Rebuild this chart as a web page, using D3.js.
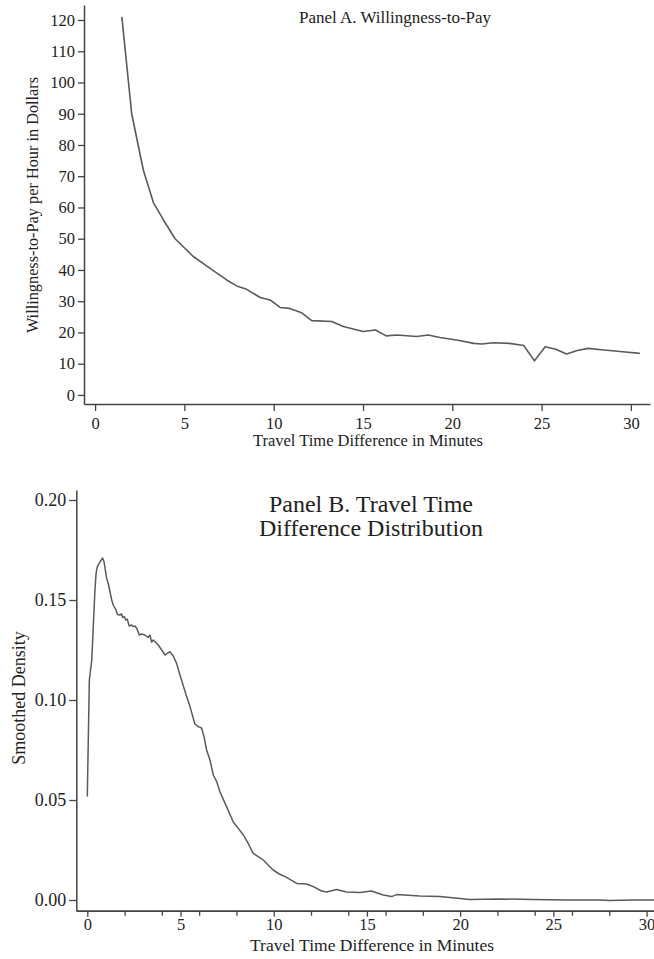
<!DOCTYPE html>
<html>
<head>
<meta charset="utf-8">
<script src="https://cdn.jsdelivr.net/npm/d3@7"></script>
<style>
  html, body { margin: 0; padding: 0; background: #fff; }
  svg { display: block; }
  text { font-family: "Liberation Serif", "Times New Roman", serif; fill: #222; }
</style>
</head>
<body>
<svg id="chart" width="654" height="959"></svg>
<script>
// Panel A: willingness-to-pay per hour (dollars) vs travel time difference (minutes)
const wtpMinutes = [1.5, 2.05, 2.7, 3.27, 3.83, 4.48, 5.5, 6.44, 7.37, 7.93, 8.49, 9.24, 9.8, 10.36, 10.9, 11.57, 12.13, 13.25, 13.9, 15.0, 15.7, 16.3, 16.9, 18.0, 18.66, 19.3, 20.4, 21.2, 21.65, 22.3, 23.2, 24.0, 24.6, 25.2, 25.8, 26.4, 27.0, 27.6, 28.5, 29.4, 30.5];
const wtpValues  = [121, 90, 72, 61.5, 56, 50, 44.3, 40.5, 36.8, 34.9, 33.8, 31.2, 30.4, 28.0, 27.7, 26.3, 23.8, 23.5, 21.9, 20.3, 20.8, 18.9, 19.2, 18.7, 19.2, 18.4, 17.4, 16.5, 16.3, 16.7, 16.5, 15.8, 10.9, 15.4, 14.6, 13.1, 14.2, 14.9, 14.4, 13.9, 13.3];
const wtpYTicks = [0, 10, 20, 30, 40, 50, 60, 70, 80, 90, 100, 110, 120];
const wtpXTicks = [0, 5, 10, 15, 20, 25, 30];

// Panel B: smoothed density of travel time difference
const densMinutes = [0, 0.11, 0.24, 0.41, 0.47, 0.54, 0.68, 0.77, 0.82, 0.9, 0.95, 1.04, 1.13, 1.22, 1.31, 1.39, 1.54, 1.61, 1.75, 1.84, 1.90, 1.99, 2.06, 2.14, 2.25, 2.38, 2.47, 2.56, 2.68, 2.79, 2.92, 3.09, 3.27, 3.36, 3.45, 3.54, 3.81, 3.99, 4.17, 4.29, 4.43, 4.61, 4.79, 4.97, 5.33, 5.51, 5.77, 5.95, 6.13, 6.26, 6.4, 6.58, 6.76, 6.94, 7.12, 7.47, 7.83, 8.1, 8.37, 8.63, 8.9, 9.17, 9.44, 9.7, 9.97, 10.3, 10.69, 11.23, 11.76, 12.12, 12.57, 12.84, 13.37, 13.91, 14.62, 15.25, 15.87, 16.32, 16.59, 17.84, 18.9, 20.0, 20.5, 22.1, 23.9, 25.7, 27.5, 28.0, 29.3, 30.4];
const densValues  = [0.0517, 0.11, 0.12, 0.155, 0.1633, 0.1667, 0.169, 0.1703, 0.171, 0.169, 0.166, 0.1608, 0.158, 0.154, 0.15, 0.1475, 0.145, 0.1428, 0.1425, 0.143, 0.1413, 0.1417, 0.140, 0.1405, 0.137, 0.1375, 0.1367, 0.137, 0.1353, 0.1325, 0.133, 0.1325, 0.1313, 0.1325, 0.129, 0.130, 0.1275, 0.125, 0.1225, 0.1233, 0.1242, 0.122, 0.1183, 0.1125, 0.1017, 0.0967, 0.088, 0.0867, 0.086, 0.0817, 0.075, 0.07, 0.0625, 0.0592, 0.054, 0.0467, 0.039, 0.0358, 0.0325, 0.0283, 0.0233, 0.0217, 0.02, 0.0175, 0.015, 0.013, 0.0113, 0.0083, 0.008, 0.0067, 0.0045, 0.004, 0.0053, 0.004, 0.0037, 0.0045, 0.0025, 0.0017, 0.0027, 0.002, 0.0017, 0.0008, 0.0003, 0.0005, 0.0003, 0, 0, -0.0003, 0, 0];
const densYTicks = [0, 0.05, 0.10, 0.15, 0.20];
const densXTicks = [0, 5, 10, 15, 20, 25, 30];
const densXMinor = [2, 4, 6, 8, 12, 14, 16, 18, 22, 24, 26, 28];

const svg = d3.select("#chart");
const axisColor = "#444";
const lineColor = "#5a5a5a";

function styleAxis(g, size) {
  g.selectAll("path.domain").attr("stroke", axisColor).attr("stroke-width", 1.5);
  g.selectAll(".tick line").attr("stroke", axisColor).attr("stroke-width", 1.3);
  g.selectAll(".tick text").attr("fill", "#222").style("font-size", size + "px")
    .style("font-family", "'Liberation Serif', 'Times New Roman', serif");
}

// ---------- Panel A ----------
{
  const x = d3.scaleLinear().domain([-0.62, 31.07]).range([84, 650]);
  const y = d3.scaleLinear().domain([-2.9, 124.8]).range([404, 5]);

  const yAxis = svg.append("g").attr("transform", "translate(84,0)")
    .call(d3.axisLeft(y).tickValues(wtpYTicks).tickSize(6).tickSizeOuter(0).tickPadding(3).tickFormat(d3.format("d")));
  styleAxis(yAxis, 16.5);

  const xAxis = svg.append("g").attr("transform", "translate(0,404)")
    .call(d3.axisBottom(x).tickValues(wtpXTicks).tickSize(7).tickSizeOuter(0).tickPadding(6).tickFormat(d3.format("d")));
  styleAxis(xAxis, 16.5);

  const line = d3.line().x((d, i) => x(wtpMinutes[i])).y(d => y(d));
  svg.append("path").datum(wtpValues).attr("d", line)
    .attr("fill", "none").attr("stroke", lineColor).attr("stroke-width", 1.6).attr("stroke-linejoin", "round");

  svg.append("text").attr("x", 395).attr("y", 23).attr("text-anchor", "middle")
    .style("font-size", "17px").text("Panel A. Willingness-to-Pay");

  svg.append("text").attr("x", 368).attr("y", 446).attr("text-anchor", "middle")
    .style("font-size", "16.5px").text("Travel Time Difference in Minutes");

  svg.append("text").attr("transform", "translate(38,205) rotate(-90)").attr("text-anchor", "middle")
    .style("font-size", "16.3px").text("Willingness-to-Pay per Hour in Dollars");
}

// ---------- Panel B ----------
{
  const x = d3.scaleLinear().domain([-0.59, 30.4]).range([76.3, 654]);
  const y = d3.scaleLinear().domain([-0.00535, 0.205]).range([910.7, 490]);

  const yAxis = svg.append("g").attr("transform", "translate(76.3,0)")
    .call(d3.axisLeft(y).tickValues(densYTicks).tickSize(7).tickSizeOuter(0).tickPadding(3).tickFormat(d3.format(".2f")));
  styleAxis(yAxis, 18);

  const xMinor = svg.append("g").attr("transform", "translate(0,910.7)")
    .call(d3.axisBottom(x).tickValues(densXMinor).tickSize(5).tickSizeOuter(0).tickFormat(""));
  styleAxis(xMinor, 16.5);

  const xAxis = svg.append("g").attr("transform", "translate(0,910.7)")
    .call(d3.axisBottom(x).tickValues(densXTicks).tickSize(6).tickSizeOuter(0).tickPadding(2).tickFormat(d3.format("d")));
  styleAxis(xAxis, 16.5);

  const line = d3.line().x((d, i) => x(densMinutes[i])).y(d => y(d));
  svg.append("path").datum(densValues).attr("d", line)
    .attr("fill", "none").attr("stroke", lineColor).attr("stroke-width", 1.5).attr("stroke-linejoin", "round");

  const title = svg.append("text").attr("text-anchor", "middle").style("font-size", "24px");
  title.append("tspan").attr("x", 371).attr("y", 512).text("Panel B. Travel Time");
  title.append("tspan").attr("x", 371).attr("y", 536).text("Difference Distribution");

  svg.append("text").attr("x", 372).attr("y", 951).attr("text-anchor", "middle")
    .style("font-size", "17.5px").text("Travel Time Difference in Minutes");

  svg.append("text").attr("transform", "translate(25,698) rotate(-90)").attr("text-anchor", "middle")
    .style("font-size", "18px").text("Smoothed Density");
}
</script>
</body>
</html>
